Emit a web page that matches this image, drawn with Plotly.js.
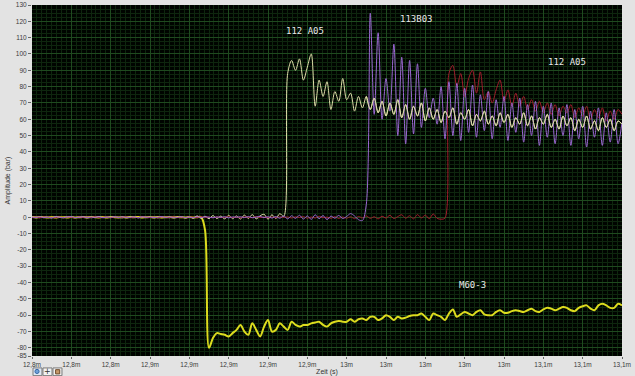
<!DOCTYPE html>
<html>
<head>
<meta charset="utf-8">
<script src="https://cdn.plot.ly/plotly-3.0.1.min.js"></script>
<style>
html,body{margin:0;padding:0;background:#e3e3e3;}
#chart{width:635px;height:376px;}
</style>
</head>
<body>
<div id="chart"></div>
<script>
// time axis (ms): first sample and sample step
var tStart = 12.80;
var tStep = 0.002;

var xTickVals = [12.80,12.82,12.84,12.86,12.88,12.90,12.92,12.94,12.96,12.98,13.00,13.02,13.04,13.06,13.08,13.10];
var xTickText = ["12,8m","12,8m","12,8m","12,9m","12,9m","12,9m","12,9m","12,9m","13m","13m","13m","13m","13m","13,1m","13,1m","13,1m"];
var yTickVals = [-85,-80,-70,-60,-50,-40,-30,-20,-10,0,10,20,30,40,50,60,70,80,90,100,110,120,130];
var yTickText = ["-85","-80","-70","-60","-50","-40","-30","-20","-10","0","10","20","30","40","50","60","70","80","90","100","110","120","130"];

var seriesNames = ["M60-3","113B03","112 A05 (2)","112 A05"];

// amplitudes (bar)
var m60 = [
0.1,-0.2,0.2,0,-0.1,0.2,-0.2,0.1,0,-0.1,
0.2,-0.1,0,0.1,-0.2,0.2,0,-0.1,0.1,-0.2,
0.2,0,-0.1,0.1,-0.2,0.1,0,0.2,-0.1,0,
0.1,-0.2,0.2,-0.1,0,0.1,-0.2,0.1,0,-0.1,
0.2,-0.1,0,0.1,
-8,-80,-74,-71,-71.5,-72,
-73,-71,-69,-66,-70,-72,-65,-69,-73,-67,
-63,-70,-69,-65,-67,-69,-64,-66,-67,-66,
-66,-65,-64.5,-64,-66,-67,-65,-64,-63.5,-64,
-64,-62.5,-64,-62.5,-62,-63,-61,-61,-63,-62,
-60,-61,-63,-61,-62,-61.5,-60.5,-60,-60,-59,
-61,-63,-59,-60,-61,-63,-59,-56.5,-61,-59.5,
-58,-59,-60,-58,-57,-59.5,-60,-60,-58,-57,
-58.5,-58.5,-57.5,-57,-57.5,-58,-57,-56,-57.5,-58,
-56.5,-55.5,-56,-57,-56,-55,-55.5,-57,-57.5,-55.5,
-54.5,-54,-56,-57,-54,-53,-54,-55.5,-55.5,-53,
-54];

var b03 = [
0.2,-0.3,0.4,-0.2,0.1,-0.4,0.3,0,-0.3,0.2,
0.4,-0.2,0,0.3,-0.4,0.2,-0.1,0.3,-0.3,0.1,
0,0.3,-0.2,0.4,-0.3,0,0.2,-0.4,0.3,-0.1,
0.2,-0.3,0.1,0.4,-0.2,0.3,-0.4,0,0.3,-0.2,
0.1,-0.3,0.4,-0.2,0.3,0,-0.3,0.2,-0.1,0.3,
-0.4,0.2,0,0.3,-0.2,0.4,-0.3,0.1,0.5,-0.2,
0.3,-0.5,0.4,-0.6,0.8,-1,0.9,-0.7,1.2,-1.1,
0.8,-1.3,1.5,-0.9,1,-1.4,0.7,-0.6,1.1,-0.8,
0.5,2.2,0.8,-1.5,
-2,8,125,63,113,60,
85,65,106,50,98,45,96,51,94,55,
79,61,73,57,80,48,83,50,82,47,
79,52,81,49,75,53,77,48,72,55,
74,47,70,52,73,46,69,50,71,44,
68,49,70,45,67,50,69,44,66,48,
68,43,65,49,67,44,64,46,66,45,
58];

var a05b = [
-0.2,0.1,-0.3,0.2,-0.1,0,-0.3,0.2,-0.2,0.1,
0,-0.3,0.2,-0.1,0.1,-0.2,0.3,-0.2,0,0.1,
-0.3,0.2,-0.1,0,0.2,-0.3,0.1,-0.2,0.3,0,
-0.2,0.1,-0.3,0.2,0,-0.1,0.3,-0.2,0.1,-0.3,
0.2,0,-0.2,0.3,-0.1,0.1,-0.3,0.2,-0.2,0,
0.3,-0.2,0.1,-0.4,0.2,0,-0.3,0.4,-0.2,0.1,
-0.3,0.2,-0.4,0.3,-0.1,0.2,-0.5,0.3,-0.2,0.4,
-0.6,0.2,-0.5,0.6,-0.3,0.1,-0.7,0.4,-0.8,0.2,
-0.6,0.3,-0.9,0.5,-0.4,0.8,-0.7,0.3,-1,0.6,
-0.5,1.2,-0.8,0.4,1.5,-0.6,0.9,-1,1.6,-0.4,
1.3,-0.9,2,-0.7,-1.2,
-0.5,88,93,80,88,
74,85,90,76,89,72,77,70,78,84,
71,78,68,76,68,74,66,72,65,71,
64,70,63,69,62,68,64,69,61,67,
62,68,60,66,61,67,59,65,60,66,
63];

var a05 = [
0,0.3,-0.3,0.2,0,-0.4,0.3,0,-0.2,0.4,
0,-0.3,0.2,-0.1,0.3,-0.3,0,0.4,-0.2,0.1,
-0.3,0.2,0,-0.4,0.3,-0.1,0.2,-0.3,0.4,0,
-0.2,0.3,-0.4,0.2,0,-0.3,0.5,-0.2,0.3,-0.5,
0.4,-0.6,0.8,-0.7,0.6,-0.9,1,-0.8,0.7,-1,
1.2,-0.9,0.8,-1.1,1.3,-0.7,1.6,-1,0.9,1.8,
-1.2,1.5,-0.8,2.2,0.5,
88,96,90,97,84,
92,100,68,84,74,83,66,77,71,85,
72,76,65,74,67,74,66,73,64,71,
62,70,63,72,61,69,60,68,62,70,
59,67,60,66,58,65,61,67,57,64,
60,66,56,63,59,65,57,62,56,64,
58,63,55,61,57,64,56,62,54,61,
57,63,55,60,54,62,56,61,53,60,
55,62,54,59,53,61,55,60,53,59,
57];

function tr(y, name, color, width) {
  return {type:'scatter', mode:'lines', x0:tStart, dx:tStep, y:y, name:name,
          line:{color:color, width:width, shape:'spline', smoothing:0.9}, hoverinfo:'skip'};
}

var data = [
  tr(m60, seriesNames[0], '#dcdc1e', 2),
  tr(a05, seriesNames[3], '#dedca8', 1),
  tr(a05b, seriesNames[2], '#a01c2c', 1),
  tr(b03, seriesNames[1], '#9a68d2', 1)
];
// keep the 112 A05 trace drawn above the oscillating 113B03 trace
data.push(tr(a05.map(function(v,i){return i>=85?v:null;}), seriesNames[3], '#dedca8', 1));

var labFont = {family:'DejaVu Sans Mono, monospace', size:9, color:'#e8e8e8'};
var tickFont = {family:'Liberation Sans, Arial, sans-serif', size:6.5, color:'#3a3a3a'};

var layout = {
  width:635, height:376,
  margin:{l:32, r:13, t:5, b:20, pad:0},
  paper_bgcolor:'#e3e3e3',
  plot_bgcolor:'#000400',
  showlegend:false,
  xaxis:{
    range:[12.80,13.10], tickmode:'array', tickvals:xTickVals, ticktext:xTickText,
    tickfont:tickFont, ticks:'outside', ticklen:2, tickcolor:'#666',
    showgrid:true, gridcolor:'#1f4a1f', gridwidth:1, zeroline:false, showline:false,
    minor:{tickmode:'linear', tick0:12.80, dtick:0.0025, showgrid:true, gridcolor:'#0e260e', gridwidth:1, ticks:''},
    title:{text:'Zeit (s)', font:{family:'Liberation Sans, Arial, sans-serif', size:7, color:'#333'}, standoff:1},
    automargin:false, fixedrange:true
  },
  yaxis:{
    range:[-85,130], tickmode:'array', tickvals:yTickVals, ticktext:yTickText,
    tickfont:tickFont, ticks:'outside', ticklen:3, tickcolor:'#666',
    showgrid:true, gridcolor:'#1f4a1f', gridwidth:1, zeroline:false, showline:false,
    minor:{tickmode:'linear', tick0:0, dtick:2.5, showgrid:true, gridcolor:'#0e260e', gridwidth:1, ticks:''},
    title:{text:'Amplitude (bar)', font:{family:'Liberation Sans, Arial, sans-serif', size:7, color:'#333'}, standoff:4},
    automargin:false, fixedrange:true
  },
  annotations:[
    {x:12.9388, y:114, xref:'x', yref:'y', text:'112 A05', showarrow:false, font:labFont},
    {x:12.9953, y:121.4, xref:'x', yref:'y', text:'113B03', showarrow:false, font:labFont},
    {x:13.072, y:95, xref:'x', yref:'y', text:'112 A05', showarrow:false, font:labFont},
    {x:13.024, y:-41.3, xref:'x', yref:'y', text:'M60-3', showarrow:false, font:labFont},
    {x:0.0263, y:-0.045, xref:'paper', yref:'paper', xanchor:'center', yanchor:'middle', text:'+', showarrow:false, font:{family:'DejaVu Sans', size:8, color:'#333'}}
  ],
  shapes:[
    {type:'rect', xref:'paper', yref:'paper', x0:0.0017, x1:0.0169, y0:-0.034, y1:-0.056, fillcolor:'#dfe8f4', line:{color:'#7a7a7a', width:1}},
    {type:'circle', xref:'paper', yref:'paper', x0:0.005, x1:0.012, y0:-0.038, y1:-0.050, fillcolor:'#6fa0d8', line:{color:'#3a6aa8', width:1}},
    {type:'rect', xref:'paper', yref:'paper', x0:0.0186, x1:0.0339, y0:-0.034, y1:-0.056, fillcolor:'#f2f2f2', line:{color:'#7a7a7a', width:1}},
    {type:'rect', xref:'paper', yref:'paper', x0:0.0356, x1:0.0508, y0:-0.034, y1:-0.056, fillcolor:'#f2f2f2', line:{color:'#7a7a7a', width:1}},
    {type:'rect', xref:'paper', yref:'paper', x0:0.040, x1:0.047, y0:-0.039, y1:-0.051, fillcolor:'#c89a6a', line:{color:'#704a2a', width:1}}
  ]
};

Plotly.newPlot('chart', data, layout, {displayModeBar:false, staticPlot:true});
</script>
</body>
</html>
